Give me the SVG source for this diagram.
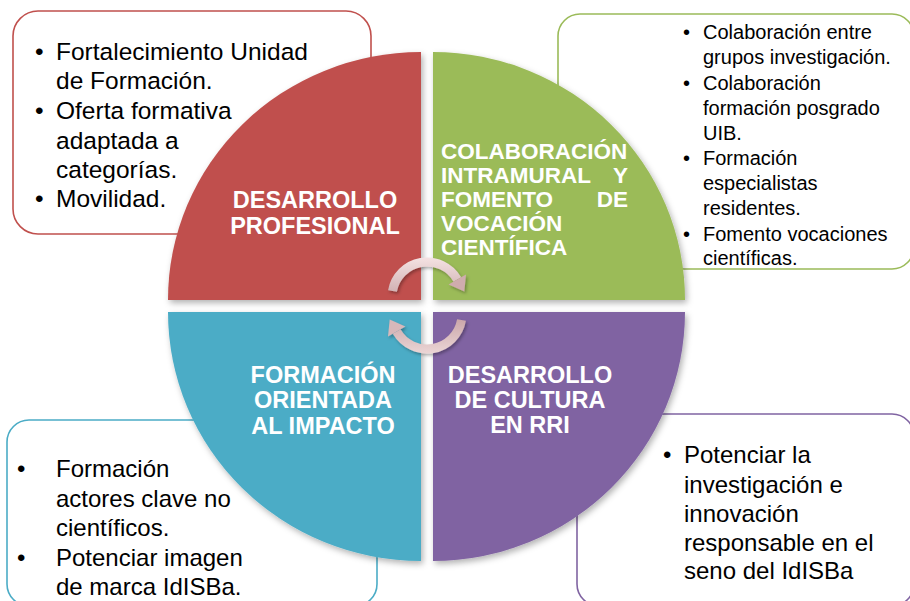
<svg xmlns="http://www.w3.org/2000/svg" width="910" height="601" viewBox="0 0 910 601">
<defs>
<filter id="sh" x="-10%" y="-10%" width="125%" height="125%">
<feDropShadow dx="2" dy="3" stdDeviation="3" flood-color="#000" flood-opacity="0.3"/>
</filter>
<filter id="sh2" x="-20%" y="-20%" width="150%" height="150%">
<feDropShadow dx="1.5" dy="2" stdDeviation="1.5" flood-color="#000" flood-opacity="0.3"/>
</filter>
<linearGradient id="g1" gradientUnits="userSpaceOnUse" x1="0" y1="258" x2="0" y2="300">
<stop offset="0" stop-color="#f4e2e2"/>
<stop offset="1" stop-color="#c9a5a8"/>
</linearGradient>
<linearGradient id="g2" gradientUnits="userSpaceOnUse" x1="0" y1="318" x2="0" y2="354">
<stop offset="0" stop-color="#c9a5a8"/>
<stop offset="1" stop-color="#ecd6d6"/>
</linearGradient>
</defs>
<style>
.box{fill:#fff;stroke-width:1.6}
.t{font-family:"Liberation Sans",Arial,sans-serif;fill:#000}
.title{font-family:"Liberation Sans",Arial,sans-serif;font-weight:bold;fill:#fff;font-size:23.5px}
.q{filter:url(#sh)}
</style>
<rect width="910" height="601" fill="#fff"/>

<g id="box-red">
<rect class="box" x="13" y="11" width="358" height="223" rx="25" stroke="#c0504d"/>
</g>
<g id="box-green">
<rect class="box" x="558" y="14" width="356" height="255" rx="22" stroke="#9bbb59"/>
</g>
<g id="box-blue">
<rect class="box" x="7" y="420" width="370" height="186" rx="22" stroke="#4bacc6"/>
</g>
<g id="box-purple">
<rect class="box" x="577" y="414" width="337" height="192" rx="22" stroke="#8064a2"/>
</g>

<g id="q-red">
<path class="q" d="M421 300 L168 300 A253 248 0 0 1 421 52 Z" fill="#c0504d"/>
<text class="title" text-anchor="middle" x="315" y="208">DESARROLLO</text>
<text class="title" text-anchor="middle" x="315" y="234">PROFESIONAL</text>
</g>
<g id="q-green">
<path class="q" d="M433 300 L433 52 A252 248 0 0 1 685 300 Z" fill="#9bbb59"/>
<g class="title" style="font-size:22.5px">
<text x="441" y="159">COLABORACIÓN</text>
<text x="441" y="183">INTRAMURAL</text>
<text x="628" y="183" text-anchor="end">Y</text>
<text x="441" y="207">FOMENTO</text>
<text x="628" y="207" text-anchor="end">DE</text>
<text x="441" y="231">VOCACIÓN</text>
<text x="441" y="255">CIENTÍFICA</text>
</g>
</g>
<g id="q-blue">
<path class="q" d="M421 312 L421 561 A253 249 0 0 1 168 312 Z" fill="#4bacc6"/>
<text class="title" text-anchor="middle" x="323" y="383">FORMACIÓN</text>
<text class="title" text-anchor="middle" x="323" y="408">ORIENTADA</text>
<text class="title" text-anchor="middle" x="323" y="434">AL IMPACTO</text>
</g>
<g id="q-purple">
<path class="q" d="M433 312 L685 312 A252 249 0 0 1 433 561 Z" fill="#8064a2"/>
<text class="title" text-anchor="middle" x="530" y="383">DESARROLLO</text>
<text class="title" text-anchor="middle" x="530" y="408">DE CULTURA</text>
<text class="title" text-anchor="middle" x="530" y="433">EN RRI</text>
</g>

<g id="connectors" filter="url(#sh2)">
<path d="M392.5 291 A35 35 0 0 1 457.3 279.5" fill="none" stroke="url(#g1)" stroke-width="9"/>
<polygon points="466,274.5 448.6,284.5 464.3,291.6" fill="#cfacae"/>
<path d="M461.5 320 A35 35 0 0 1 396.7 331.5" fill="none" stroke="url(#g2)" stroke-width="9"/>
<polygon points="388,336.5 405.4,326.5 389.7,319.4" fill="#d7b8ba"/>
</g>

<g id="text-red" class="t" style="font-size:24.5px">
<text x="35" y="60">•</text><text x="56" y="60">Fortalecimiento Unidad</text>
<text x="56" y="89">de Formación.</text>
<text x="35" y="119">•</text><text x="56" y="119">Oferta formativa</text>
<text x="56" y="149">adaptada a</text>
<text x="56" y="178">categorías.</text>
<text x="35" y="207">•</text><text x="56" y="207">Movilidad.</text>
</g>
<g id="text-green" class="t" style="font-size:20px">
<text x="683" y="39">•</text><text x="703" y="39">Colaboración entre</text>
<text x="703" y="64">grupos investigación.</text>
<text x="683" y="90">•</text><text x="703" y="90">Colaboración</text>
<text x="703" y="115">formación posgrado</text>
<text x="703" y="140">UIB.</text>
<text x="683" y="165">•</text><text x="703" y="165">Formación</text>
<text x="703" y="190">especialistas</text>
<text x="703" y="215">residentes.</text>
<text x="683" y="241">•</text><text x="703" y="241">Fomento vocaciones</text>
<text x="703" y="265">científicas.</text>
</g>
<g id="text-blue" class="t" style="font-size:24px">
<text x="17" y="477">•</text><text x="56" y="477">Formación</text>
<text x="56" y="507">actores clave no</text>
<text x="56" y="536">científicos.</text>
<text x="17" y="566">•</text><text x="56" y="566">Potenciar imagen</text>
<text x="56" y="595">de marca IdISBa.</text>
</g>
<g id="text-purple" class="t" style="font-size:24px">
<text x="663" y="463">•</text><text x="684" y="463">Potenciar la</text>
<text x="684" y="493">investigación e</text>
<text x="684" y="522">innovación</text>
<text x="684" y="551">responsable en el</text>
<text x="684" y="579">seno del IdISBa</text>
</g>
</svg>
